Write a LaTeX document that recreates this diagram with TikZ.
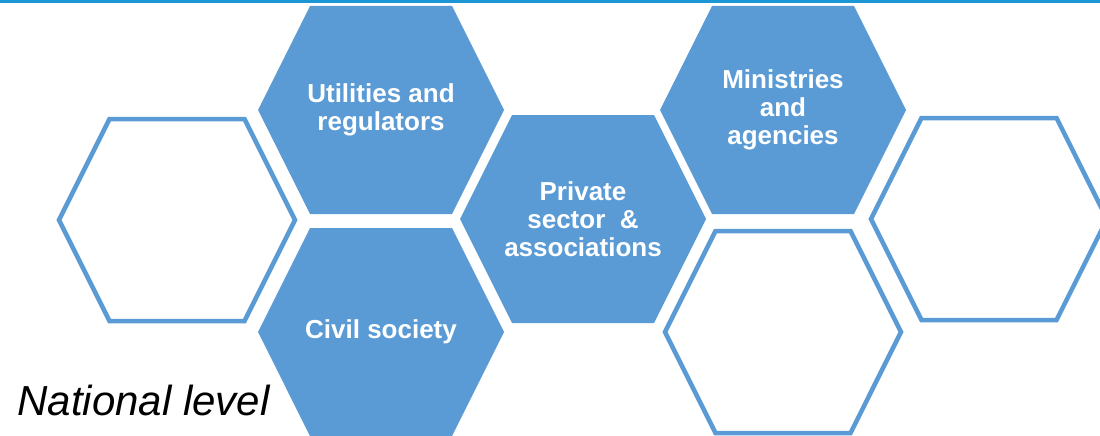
\documentclass[tikz,border=0pt]{standalone}
\usepackage{fontspec}
\setmainfont{Liberation Sans}
\usetikzlibrary{shapes.symbols,positioning}
\definecolor{hexblue}{RGB}{91,155,213}
\definecolor{topline}{RGB}{28,150,212}

\begin{document}
\begin{tikzpicture}[x=1pt,y=1pt,on grid,
  hex text/.style={text=white,font=\bfseries\fontsize{26}{28}\selectfont,align=center,inner sep=0pt},
  filled hex/.style={signal,signal to=east and west,signal pointer angle=126.87,
    fill=hexblue,minimum width=246pt,minimum height=208pt,inner sep=0pt,
    label={[hex text]center:#1}},
  empty hex/.style={signal,signal to=east and west,signal pointer angle=126.87,
    draw=hexblue,line width=4.5pt,minimum width=236pt,minimum height=202pt,inner sep=0pt}]

  \useasboundingbox (0,0) rectangle (1100,-436);
  \clip (0,0) rectangle (1100,-436);
  \draw[topline,line width=3pt] (0,-1.5) -- (1100,-1.5);

  \node[filled hex={Utilities and\\regulators}] (util) at (381,-110) {};
  \node[filled hex={Civil society}] (civil) [below=222pt of util] {};
  \node[filled hex={Private\\sector~~\&\\associations}] (private) [below right=109pt and 202pt of util] {};
  \node[filled hex={Ministries\\and\\agencies}] (min) [above right=109pt and 200pt of private] {};
  \node[empty hex] (lowmid) [below=222pt of min] {};
  \node[empty hex] (left) [below left=110pt and 204pt of util] {};
  \node[empty hex] (right) [right=406pt of private] {};

  \node[anchor=base west,font=\itshape\fontsize{42}{50}\selectfont] (level) at (14,-415) {National level};
\end{tikzpicture}
\end{document}
